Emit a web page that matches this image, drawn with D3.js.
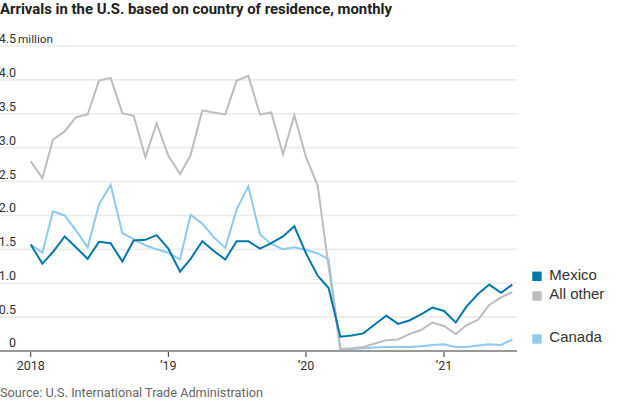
<!DOCTYPE html>
<html><head><meta charset="utf-8">
<script src="https://cdn.jsdelivr.net/npm/d3@7"></script>
<style>
body{margin:0;background:#fff;}
svg{display:block;}
text{font-family:"Roboto","Liberation Sans",sans-serif;}
</style></head>
<body><svg id="c" width="620" height="400"></svg>
<script>
const months = d3.timeMonths(new Date(2018,0,1), new Date(2021,7,1)); // Jan 2018 .. Jul 2021
const mexico = [1.57,1.29,1.46,1.69,1.53,1.36,1.61,1.59,1.32,1.63,1.64,1.71,
  1.51,1.17,1.36,1.62,1.48,1.35,1.62,1.62,1.51,1.59,1.69,1.84,
  1.44,1.11,0.93,0.21,0.23,0.26,0.39,0.52,0.40,0.45,0.54,0.64,
  0.59,0.42,0.65,0.84,0.98,0.86,0.98];
const allOther = [2.80,2.55,3.12,3.24,3.45,3.49,3.99,4.03,3.51,3.47,2.86,3.36,
  2.88,2.61,2.89,3.55,3.52,3.49,3.99,4.06,3.49,3.52,2.90,3.48,
  2.86,2.44,1.24,0.03,0.04,0.06,0.11,0.16,0.17,0.25,0.31,0.42,
  0.37,0.25,0.38,0.46,0.68,0.79,0.87];
const canada = [1.57,1.45,2.06,2.00,1.78,1.53,2.16,2.45,1.74,1.65,1.56,1.50,
  1.45,1.35,2.01,1.88,1.68,1.52,2.09,2.43,1.72,1.58,1.50,1.53,
  1.49,1.44,1.35,0.03,0.03,0.04,0.05,0.06,0.06,0.06,0.07,0.09,
  0.10,0.06,0.06,0.08,0.10,0.09,0.17];
const yTicks = [0,0.5,1,1.5,2,2.5,3,3.5,4,4.5];
const yTickLabels = ["0","0.5","1.0","1.5","2.0","2.5","3.0","3.5","4.0","4.5"];
const xTicks = [new Date(2018,0,1),new Date(2019,0,1),new Date(2020,0,1),new Date(2021,0,1)];
const xTickLabels = ["2018","\u201919","\u201920","\u201921"];
const seriesNames = ["Mexico","All other","Canada"];
const colors = {"Mexico":"#0077ad","All other":"#bdbdbd","Canada":"#8ecaef"};

const svg = d3.select("#c");
const x = d3.scaleTime().domain([months[0], months[months.length-1]]).range([30.7, 512.3]);
const y = d3.scaleLinear().domain([0,4.5]).range([351,46]);
const gridRight = 517;

// title
svg.append("text").attr("x",0).attr("y",14).attr("font-size",14.9).attr("font-weight","bold")
  .attr("fill","#222").text("Arrivals in the U.S. based on country of residence, monthly");

// gridlines
svg.append("g").selectAll("line").data(yTicks.filter(d=>d>0)).join("line")
  .attr("x1",0).attr("x2",gridRight).attr("y1",d=>y(d)).attr("y2",d=>y(d))
  .attr("stroke","#ebebeb").attr("stroke-width",1.6);

// y labels
const yl = svg.append("g").attr("font-size",12.5).attr("fill","#333");
yl.selectAll("text").data(yTicks).join("text")
  .attr("x",16).attr("y",d=>y(d)-(d===0?4:3)).attr("text-anchor","end")
  .text((d,i)=>yTickLabels[i]);
yl.append("text").attr("x",18).attr("y",y(4.5)-3).attr("font-size",11.8).text("million");

// lines
const line = d3.line().x((d,i)=>x(months[i])).y(d=>y(d));
const data = {"Mexico":mexico,"All other":allOther,"Canada":canada};
["Canada","All other","Mexico"].forEach(k=>{
  svg.append("path").datum(data[k]).attr("d",line).attr("fill","none")
    .attr("stroke",colors[k]).attr("stroke-width",2).attr("stroke-linejoin","miter");
});

// x axis
svg.append("line").attr("x1",0).attr("x2",gridRight).attr("y1",351).attr("y2",351)
  .attr("stroke","#999").attr("stroke-width",2);
const xg = svg.append("g");
xg.selectAll("line").data(xTicks).join("line")
  .attr("x1",d=>x(d)).attr("x2",d=>x(d)).attr("y1",352).attr("y2",357)
  .attr("stroke","#333").attr("stroke-width",1);
xg.selectAll("text").data(xTicks).join("text")
  .attr("x",d=>x(d)).attr("y",369.5).attr("text-anchor","middle")
  .attr("font-size",12.5).attr("fill","#333").text((d,i)=>xTickLabels[i]);

// legend
const legY = {"Mexico":276.3,"All other":296,"Canada":339};
const lg = svg.append("g");
seriesNames.forEach(k=>{
  lg.append("rect").attr("x",532.3).attr("y",legY[k]-4.7).attr("width",9.4).attr("height",9.4).attr("fill",colors[k]);
  lg.append("text").attr("x",549.3).attr("y",legY[k]+3.3).attr("font-size",15).attr("fill","#333")
    .style("font-family","'Liberation Sans',sans-serif").text(k);
});

// source
svg.append("text").attr("x",0).attr("y",397).attr("font-size",12.7).attr("fill","#666")
  .text("Source: U.S. International Trade Administration");
</script></body></html>
